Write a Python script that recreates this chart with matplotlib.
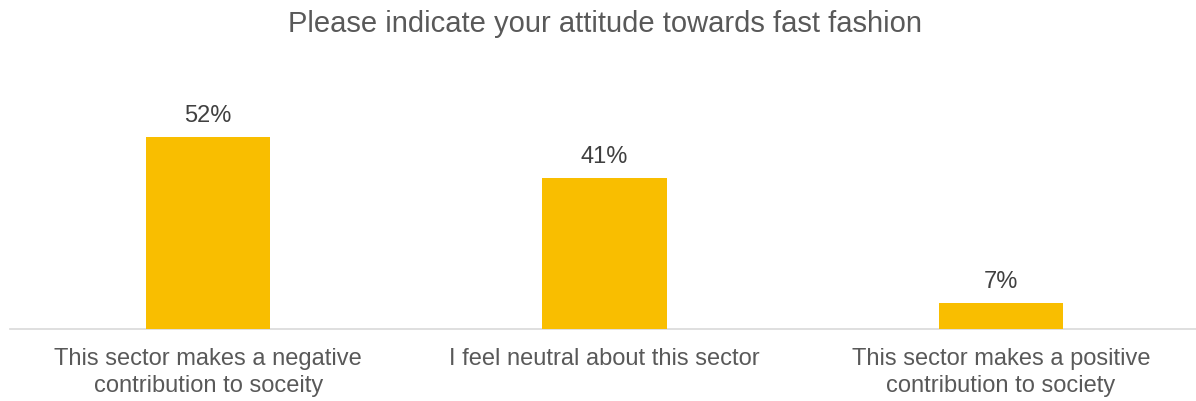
import matplotlib.pyplot as plt
import numpy as np

plt.rcParams['font.family'] = ['Liberation Sans', 'DejaVu Sans']

# data
categories = ["This sector makes a negative\ncontribution to soceity",
              "I feel neutral about this sector",
              "This sector makes a positive\ncontribution to society"]
values = [52, 41, 7]
value_labels = ["52%", "41%", "7%"]
title = "Please indicate your attitude towards fast fashion"

fig = plt.figure(figsize=(11.96, 4.01), dpi=100)
# axes placed so baseline sits at ~y=329px
ax = fig.add_axes([10 / 1196, (401 - 329) / 401, 1189 / 1196, 221 / 401])

x = np.arange(len(categories))
ax.bar(x, values, width=0.313, color="#F9BE00", zorder=3)

for xi, v, lab in zip(x, values, value_labels):
    ax.text(xi, v + 2.8, lab, ha="center", va="bottom", fontsize=17, color="#404040")

ax.set_xlim(-0.5, 2.5)
ax.set_ylim(0, 60)
ax.set_xticks(x)
ax.set_xticklabels(categories, fontsize=17, color="#595959", linespacing=1.25)
ax.tick_params(axis="x", length=0, pad=14)
ax.set_yticks([])
for s in ["top", "right", "left"]:
    ax.spines[s].set_visible(False)
ax.spines["bottom"].set_color("#D9D9D9")
ax.spines["bottom"].set_linewidth(1.2)

fig.text(605 / 1196, 1 - 24 / 401, title, ha="center", va="center", fontsize=21, color="#595959")

fig.savefig("out.png", dpi=100)
